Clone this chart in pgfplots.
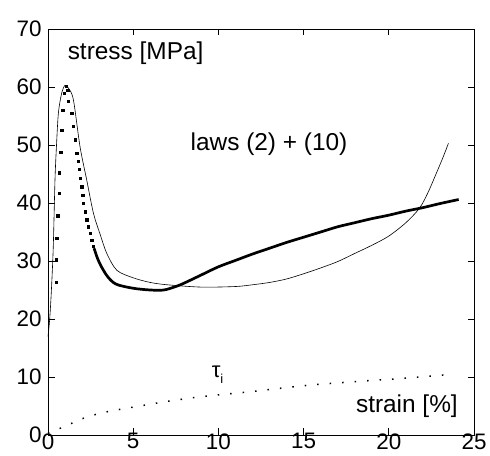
\documentclass[border=0pt]{standalone}
\usepackage{pgfplots}
\pgfplotsset{compat=1.18}
\usepackage{fontspec}
\setmainfont{Liberation Sans}
\usetikzlibrary{calc}
\begin{document}
\begin{tikzpicture}
\begin{axis}[
  scale only axis,
  width=426bp, height=406bp,
  xmin=0, xmax=25, ymin=0, ymax=70,
  xtick={0,5,10,15,20,25},
  ytick={0,10,20,30,40,50,60,70},
  tick align=inside,
  major tick length=6.5bp,
  axis line style={line width=0.9bp},
  every tick/.style={black, line width=0.8bp},
  /pgf/number format/assume math mode=true,
  tick label style={font=\fontsize{22.5}{25}\selectfont},
  yticklabel style={xshift=-3bp},
  xticklabel style={yshift=5bp},
  clip=false,
]
% model (thin line)
\addplot[black, line width=0.6bp, smooth] coordinates {
(0,17) (0.1,20) (0.2,25) (0.31,32.5) (0.41,44) (0.5,50) (0.61,55.5) (0.8,58.9) (1.0,60.3)
(1.2,59.8) (1.49,57.8) (1.88,49.7) (2.27,44) (2.67,38.2) (3.06,34.6) (3.45,31.3)
(4.04,28.4) (5,27.1) (6,26.3) (7,25.9) (9,25.5) (11,25.6) (12,25.9) (13,26.3) (14,26.9)
(15,27.8) (16,28.8) (17,29.9) (18,31.3) (19,32.7) (20,34.3) (21,36.6) (21.8,39.1)
(22.3,41.8) (22.8,45.2) (23.2,48) (23.5,50.3)
};
% experimental data: sparse points
\addplot[only marks, mark=square*, mark size=1.15bp, black] coordinates {
(0.47,26.4) (0.47,30.2) (0.51,33.9) (0.57,37.8) (0.65,41.7) (0.67,45.2) (0.75,48.8)
(0.8,52.6) (0.86,56) (0.94,58.9) (1.05,60.1) (1.15,59.4)
(1.2,57.5) (1.39,55.5) (1.49,53.2) (1.59,50.9) (1.69,48.6) (1.77,47.2) (1.84,45.8)
(1.91,44.3) (1.98,42.8) (2.03,41.4) (2.08,40) (2.17,38.5) (2.27,37.1) (2.37,35.9)
(2.47,34.8) (2.57,33.6) (2.65,32.6)
};
% experimental data: dense part
\addplot[black, line width=2.7bp, smooth] coordinates {
(2.7,32.2) (2.9,30.5) (3.1,29.2) (3.5,27.3) (4,26) (5,25.3) (6,25) (6.8,25) (7.5,25.6)
(8,26.2) (9,27.6) (10,29) (11,30.1) (12,31.2) (13,32.2) (14,33.2) (15,34.1) (16,35)
(17,35.9) (18,36.6) (19,37.3) (20,37.9) (21,38.6) (22,39.2) (23,39.9) (24.1,40.6)
};
% tau_i (dotted)
\addplot[black, line width=1.5bp, dash pattern=on 1.5bp off 11bp, smooth] coordinates {
(0,0.3) (1,1.5) (2,2.8) (3,3.7) (4,4.3) (5,4.8) (7,5.8) (9,6.6) (12,7.5) (15,8.5)
(18,9.2) (21,9.8) (23.4,10.4)
};
\node[anchor=west, inner sep=0, font=\fontsize{24.5}{27}\selectfont] at (axis cs:1.15,65.9) {stress [MPa]};
\node[inner sep=0, font=\fontsize{24.5}{27}\selectfont] at (axis cs:12.97,50.2) {laws (2) + (10)};
\node[anchor=east, inner sep=0, font=\fontsize{24.5}{27}\selectfont] at (axis cs:24.06,5.0) {strain [\%]};
\node[inner sep=0, font=\fontsize{22}{24}\selectfont] at (axis cs:9.95,10.4) {τ\raisebox{-0.45ex}{\fontsize{13}{15}\selectfont i}};
\coordinate (ll) at (axis cs:0,0);
\coordinate (ur) at (axis cs:25,70);
\end{axis}
\pgfresetboundingbox
\path[use as bounding box] ($(ll)+(-48bp,-21bp)$) rectangle ($(ur)+(16bp,29bp)$);
\end{tikzpicture}
\end{document}
